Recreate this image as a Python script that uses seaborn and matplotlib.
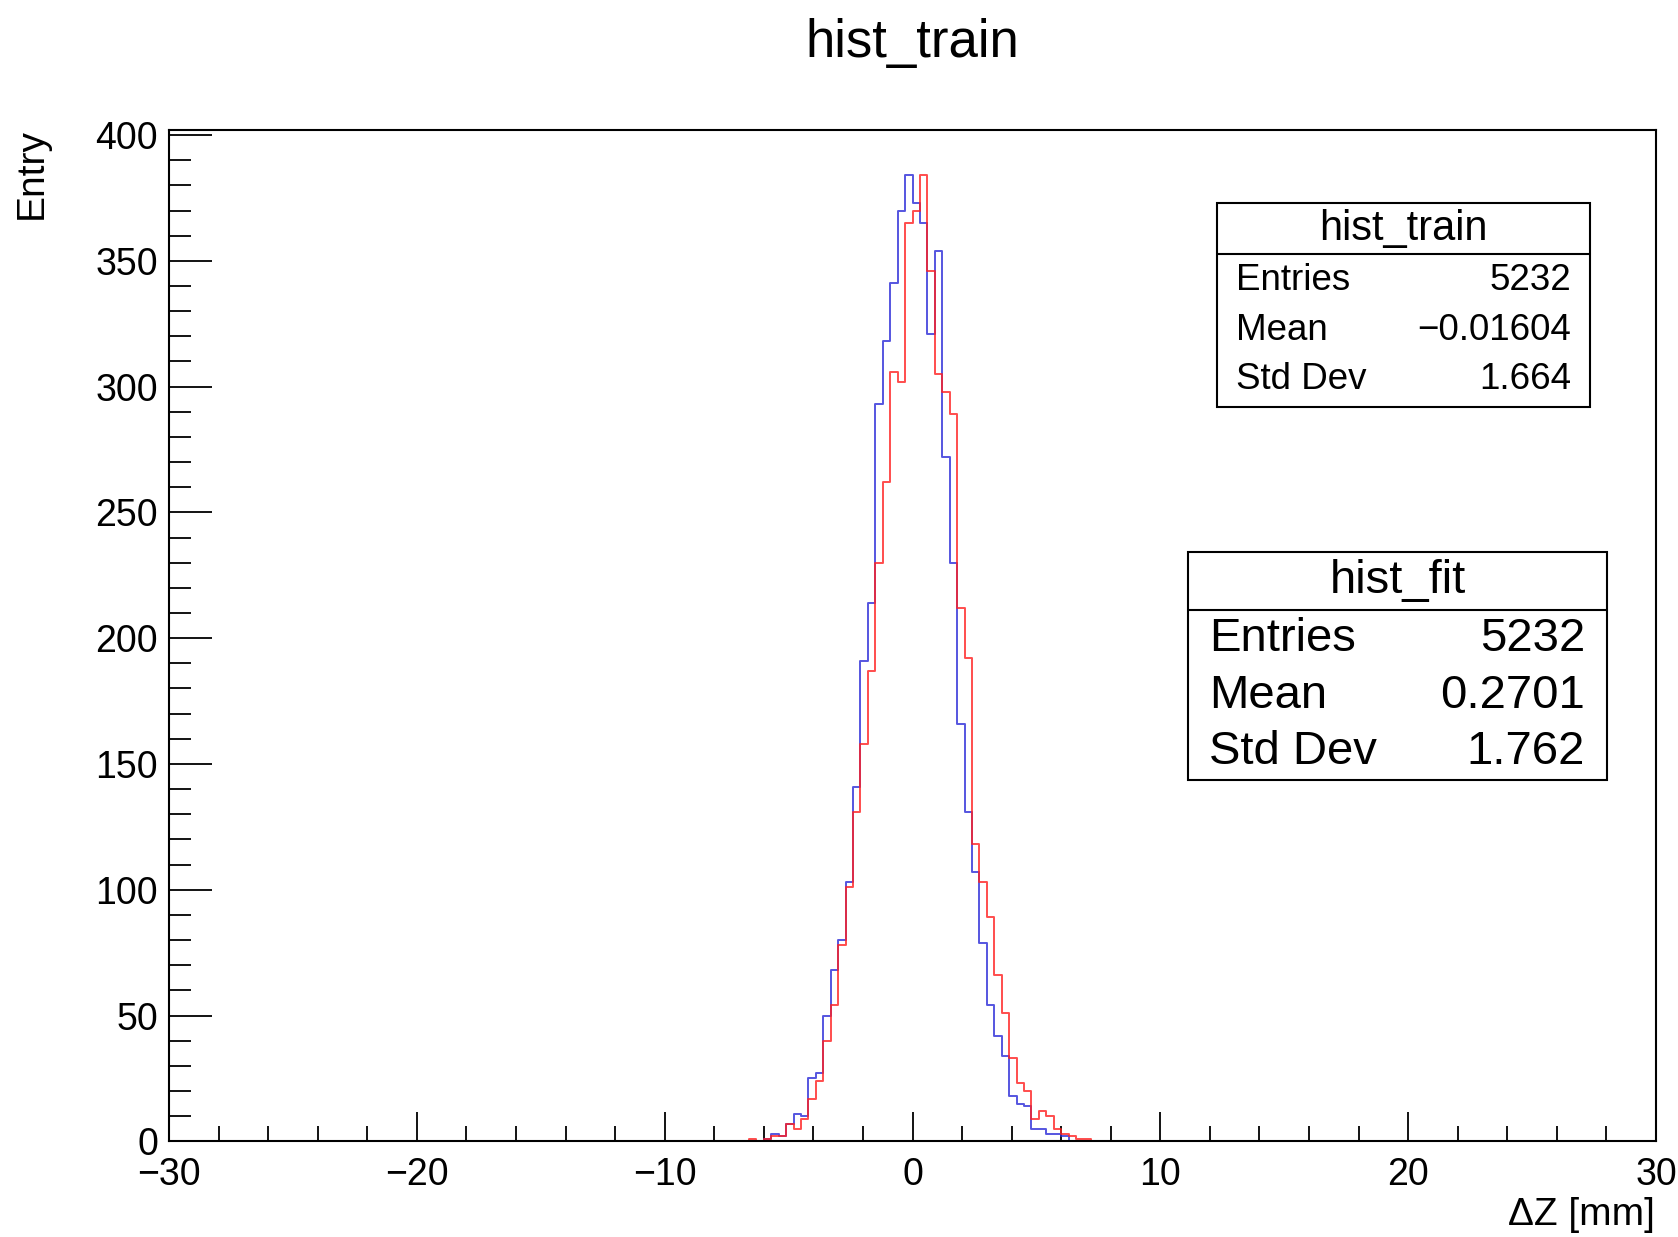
import numpy as np
import pandas as pd
import matplotlib
matplotlib.use("Agg")
import matplotlib.pyplot as plt
from matplotlib.patches import Rectangle
import seaborn as sns

# Binning of the ΔZ histograms: 200 bins over [-30, 30] mm
x_min, x_max, n_bins = -30.0, 30.0, 200

# Bin contents of the non-empty region; first_left is the low edge of the first listed bin
train_first_left = -6.0
train_counts = [1, 3, 2, 7, 11, 10, 25, 27, 50, 68, 80, 103, 141, 191, 214, 293,
                318, 341, 370, 384, 373, 365, 321, 354, 272, 230, 166, 131, 107,
                79, 54, 42, 34, 18, 15, 14, 5, 5, 3, 3, 2]

fit_first_left = -6.6
fit_counts = [1, 0, 1, 2, 2, 7, 5, 9, 17, 24, 40, 54, 78, 101, 131, 158, 187, 230,
              262, 306, 302, 365, 370, 384, 346, 305, 298, 289, 212, 192, 118, 103,
              89, 66, 51, 33, 23, 20, 9, 12, 10, 5, 3, 2, 1, 1]

# Statistics box contents
train_stats = [("Entries", "5232"), ("Mean", "\u22120.01604"), ("Std Dev", "1.664")]
fit_stats = [("Entries", "5232"), ("Mean", "0.2701"), ("Std Dev", "1.762")]

x_ticks = [-30, -20, -10, 0, 10, 20, 30]
y_ticks = [0, 50, 100, 150, 200, 250, 300, 350, 400]

edges = np.linspace(x_min, x_max, n_bins + 1)
centers = 0.5 * (edges[:-1] + edges[1:])
width = edges[1] - edges[0]


def full_counts(first_left, counts):
    arr = np.zeros(n_bins)
    i0 = int(round((first_left - x_min) / width))
    arr[i0:i0 + len(counts)] = counts
    return arr


sns.set_theme(style="white")
plt.rcParams["font.family"] = ["Liberation Sans", "DejaVu Sans"]
plt.rcParams["text.color"] = "black"
plt.rcParams["xtick.color"] = "black"
plt.rcParams["ytick.color"] = "black"
plt.rcParams["axes.labelcolor"] = "black"

W, H = 1678, 1237
fig = plt.figure(figsize=(W / 100, H / 100), dpi=100)
ax = fig.add_axes([169 / W, 1 - 1141.3 / H, (1656 - 169) / W, (1141.3 - 130) / H])

series = [
    (full_counts(train_first_left, train_counts), "#2a2ad8"),
    (full_counts(fit_first_left, fit_counts), "#ff2020"),
]
for counts, color in series:
    sns.histplot(x=centers, weights=counts, bins=n_bins, binrange=(x_min, x_max),
                 element="step", fill=False, color=color, linewidth=1.4,
                 alpha=0.8, ax=ax)

ax.set_xlim(x_min, x_max)
ax.set_ylim(0, 402)
ax.set_xticks(x_ticks)
ax.set_xticklabels([f"{t:d}".replace("-", "\u2212") for t in x_ticks])
ax.set_yticks(y_ticks)
ax.set_yticklabels([str(t) for t in y_ticks])
ax.set_xticks(np.arange(-30, 31, 2), minor=True)
ax.set_yticks(np.arange(0, 401, 10), minor=True)
ax.set_xlabel("")
ax.set_ylabel("")

ax.tick_params(axis="x", which="major", direction="in", length=21, width=1.3,
               labelsize=27, pad=11, colors="black", bottom=True, top=False)
ax.tick_params(axis="x", which="minor", direction="in", length=11, width=1.3,
               bottom=True, top=False, colors="black")
ax.tick_params(axis="y", which="major", direction="in", length=31, width=1.3,
               labelsize=27, pad=8, colors="black", left=True, right=False)
ax.tick_params(axis="y", which="minor", direction="in", length=16, width=1.3,
               left=True, right=False, colors="black")
for s in ax.spines.values():
    s.set_visible(True)
    s.set_color("black")
    s.set_linewidth(1.5)
ax.set_facecolor("white")


def fx(px):
    return px / W


def fy(py):
    return 1 - py / H


fig.text(fx(912), fy(43), "hist_train", ha="center", va="center", fontsize=38)
fig.text(fx(32), fy(128), "Entry", rotation=90, ha="center", va="top", fontsize=28)
fig.text(fx(1655), fy(1215), "\u0394Z [mm]", ha="right", va="center", fontsize=28)


def stats_box(x0, y0, x1, y1, y_div, title, rows, row_ys, tsize, rsize, lx, rx):
    fig.add_artist(Rectangle((fx(x0), fy(y1)), fx(x1) - fx(x0), fy(y0) - fy(y1),
                             transform=fig.transFigure, facecolor="white",
                             edgecolor="black", linewidth=1.5, zorder=5))
    fig.add_artist(plt.Line2D([fx(x0), fx(x1)], [fy(y_div), fy(y_div)],
                              transform=fig.transFigure, color="black",
                              linewidth=1.5, zorder=6))
    fig.text(fx((x0 + x1) / 2), fy((y0 + y_div) / 2), title, ha="center",
             va="center", fontsize=tsize, zorder=7)
    for (label, value), ry in zip(rows, row_ys):
        fig.text(fx(lx), fy(ry), label, ha="left", va="center", fontsize=rsize, zorder=7)
        fig.text(fx(rx), fy(ry), value, ha="right", va="center", fontsize=rsize, zorder=7)


stats_box(1217, 203, 1590, 407, 254, "hist_train", train_stats, [280, 331, 380],
          30, 26.5, 1236, 1571)
stats_box(1188, 552, 1607, 780, 610, "hist_fit", fit_stats, [639, 696, 752],
          34, 34, 1209, 1585)

fig.savefig("out.png", dpi=100, facecolor="white")
